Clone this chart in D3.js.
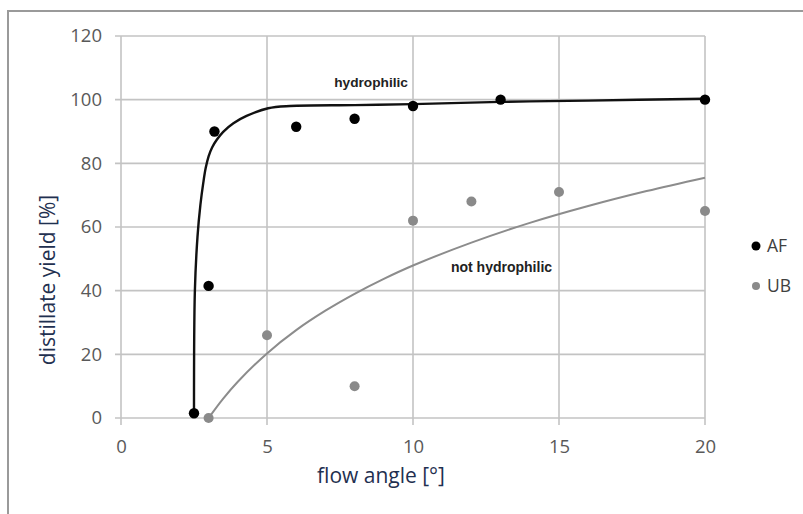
<!DOCTYPE html>
<html>
<head>
<meta charset="utf-8">
<script src="https://cdn.jsdelivr.net/npm/d3@7"></script>
<style>
  html, body { margin: 0; padding: 0; background: #fff; }
  svg { display: block; }
</style>
</head>
<body>
<svg id="chart" width="803" height="514"></svg>
<script>
// ---- data ----
const xTicks = [0, 5, 10, 15, 20];
const yTicks = [0, 20, 40, 60, 80, 100, 120];

const afAngle = [2.5, 3, 3.2, 6, 8, 10, 13, 20];
const afYield = [1.5, 41.5, 90, 91.5, 94, 98, 100, 100];

const ubAngle = [3, 5, 8, 10, 12, 15, 20];
const ubYield = [0, 26, 10, 62, 68, 71, 65];

// trend lines
const afTrendAngle = [2.5, 2.53, 2.62, 2.72, 2.82, 2.9, 3.0, 3.12, 3.28, 3.5, 3.85, 4.3, 5.04, 5.79, 8, 10, 13, 16, 20];
const afTrendYield = [1.5, 40, 57, 67, 74, 78.5, 82.2, 85.0, 87.4, 89.9, 92.6, 94.9, 97.3, 98.0, 98.3, 98.6, 99.3, 99.7, 100.3];

const ubTrendAngle = [3, 3.5, 4, 5, 6, 7, 8, 9, 10, 12, 14, 16, 18, 20];
const ubTrendYield = [0, 6.1, 11.4, 20.3, 27.6, 33.7, 39.0, 43.7, 47.9, 55.1, 61.3, 66.6, 71.3, 75.5];

const seriesNames = ["AF", "UB"];
const xTitle = "flow angle [°]";
const yTitle = "distillate yield [%]";
const labelHydro = "hydrophilic";
const labelNotHydro = "not hydrophilic";

// ---- drawing ----
const svg = d3.select("#chart");
const W = 803, H = 514;

svg.append("rect").attr("width", W).attr("height", H).attr("fill", "#fff");
// outer frame
svg.append("rect")
  .attr("x", 8).attr("y", 11)
  .attr("width", W).attr("height", H)
  .attr("fill", "none").attr("stroke", "#9a9a9a").attr("stroke-width", 2);

const x = d3.scaleLinear().domain([0, 20]).range([121, 705]);
const y = d3.scaleLinear().domain([0, 120]).range([418, 36]);

const gridColor = "#c3c3c3";
// horizontal gridlines (extend left as ticks)
svg.append("g").selectAll("line").data(yTicks).join("line")
  .attr("x1", x(0) - 6).attr("x2", x(20))
  .attr("y1", d => y(d)).attr("y2", d => y(d))
  .attr("stroke", gridColor).attr("stroke-width", 1.6);
// vertical gridlines (extend down as ticks)
svg.append("g").selectAll("line").data(xTicks).join("line")
  .attr("x1", d => x(d)).attr("x2", d => x(d))
  .attr("y1", y(120)).attr("y2", y(0) + 7)
  .attr("stroke", gridColor).attr("stroke-width", 1.6);

// axes labels via d3 axes
const yAxis = svg.append("g")
  .attr("transform", `translate(${x(0) - 19},0)`)
  .call(d3.axisLeft(y).tickValues(yTicks).tickSize(0).tickPadding(0));
yAxis.select(".domain").remove();
yAxis.selectAll("text")
  .attr("font-family", "'Open Sans', sans-serif")
  .attr("font-size", 18.5).attr("fill", "#595959");

const xAxis = svg.append("g")
  .attr("transform", `translate(0,${y(0) + 22})`)
  .call(d3.axisBottom(x).tickValues(xTicks).tickSize(0).tickPadding(0));
xAxis.select(".domain").remove();
xAxis.selectAll("text")
  .attr("font-family", "'Open Sans', sans-serif")
  .attr("font-size", 18.5).attr("fill", "#595959");

// titles
svg.append("text")
  .attr("transform", `translate(55,280) rotate(-90)`)
  .attr("text-anchor", "middle")
  .attr("font-family", "'Open Sans', sans-serif")
  .attr("font-size", 21).attr("fill", "#1f3050")
  .text(yTitle);
svg.append("text")
  .attr("x", 381).attr("y", 483)
  .attr("text-anchor", "middle")
  .attr("font-family", "'Open Sans', sans-serif")
  .attr("font-size", 21).attr("fill", "#1f3050")
  .text(xTitle);

// trend lines
const afTrend = afTrendAngle.map((a, i) => [a, afTrendYield[i]]);
const ubTrend = ubTrendAngle.map((a, i) => [a, ubTrendYield[i]]);
const line = d3.line().x(d => x(d[0])).y(d => y(d[1])).curve(d3.curveCatmullRom.alpha(0.5));

svg.append("path").datum(ubTrend).attr("d", line)
  .attr("fill", "none").attr("stroke", "#8c8c8c").attr("stroke-width", 2);
svg.append("path").datum(afTrend).attr("d", line)
  .attr("fill", "none").attr("stroke", "#111").attr("stroke-width", 2.4);

// points
const af = afAngle.map((a, i) => [a, afYield[i]]);
const ub = ubAngle.map((a, i) => [a, ubYield[i]]);
svg.append("g").selectAll("circle").data(ub).join("circle")
  .attr("cx", d => x(d[0])).attr("cy", d => y(d[1])).attr("r", 5)
  .attr("fill", "#8a8a8a");
svg.append("g").selectAll("circle").data(af).join("circle")
  .attr("cx", d => x(d[0])).attr("cy", d => y(d[1])).attr("r", 5.2)
  .attr("fill", "#000");

// curve labels
svg.append("text").attr("x", x(7.3)).attr("y", y(105.5)).attr("dy", "0.35em")
  .attr("font-family", "'Liberation Sans', Arial, sans-serif").attr("font-weight", "bold")
  .attr("font-size", 13.7).attr("fill", "#222").text(labelHydro);
svg.append("text").attr("x", x(11.3)).attr("y", y(47.5)).attr("dy", "0.35em")
  .attr("font-family", "'Liberation Sans', Arial, sans-serif").attr("font-weight", "bold")
  .attr("font-size", 14).attr("fill", "#222").text(labelNotHydro);

// legend
const legendColors = ["#000", "#8a8a8a"];
const lg = svg.append("g").selectAll("g").data(seriesNames).join("g")
  .attr("transform", (d, i) => `translate(756,${246 + i * 40})`);
lg.append("circle").attr("r", (d, i) => i === 0 ? 4.5 : 4).attr("fill", (d, i) => legendColors[i]);
lg.append("text").attr("x", 11).attr("dy", "0.36em")
  .attr("font-family", "'Open Sans', sans-serif").attr("font-size", 17.5)
  .attr("fill", "#404040").text(d => d);
</script>
</body>
</html>
